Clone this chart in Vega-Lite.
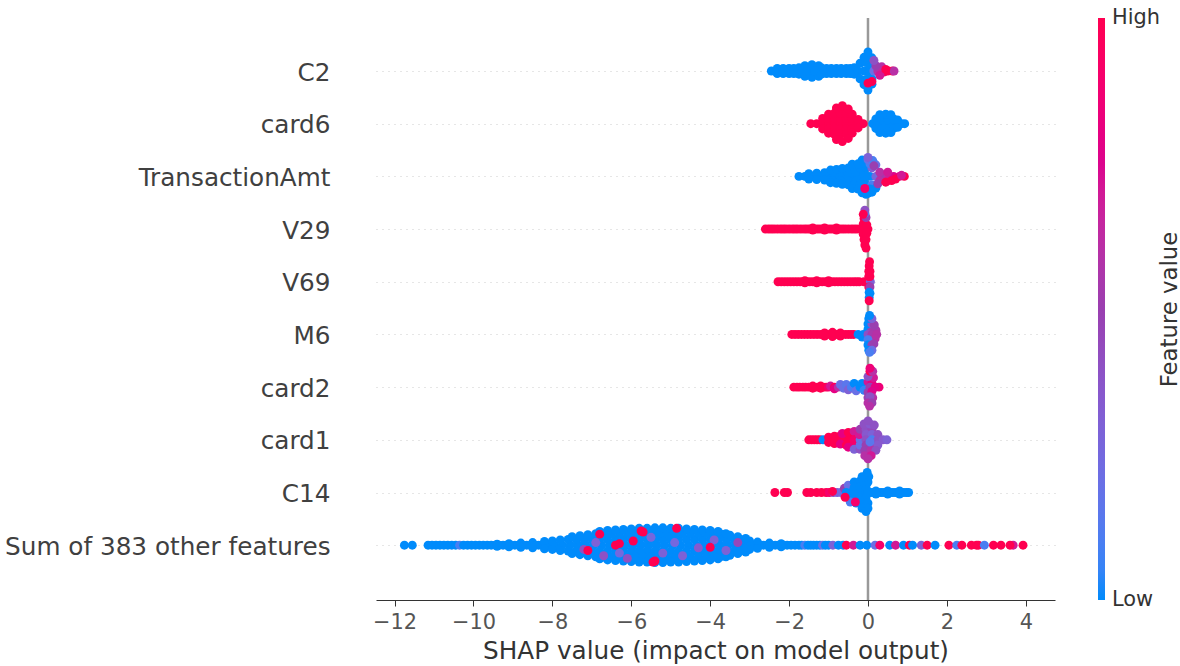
{"$schema":"https://vega.github.io/schema/vega-lite/v6.json","width":679,"height":582,"autosize":{"type":"none"},"padding":{"left":376,"top":18,"right":125,"bottom":66},"background":"white","config":{"view":{"stroke":null},"font":"DejaVu Sans"},"resolve":{"scale":{"y":"independent"},"axis":{"y":"independent"}},"layer":[{"data":{"values":[{"x":0}]},"mark":{"type":"rule","color":"#999999","strokeWidth":2.5},"encoding":{"x":{"field":"x","type":"quantitative","scale":{"domain":[-12.47,4.74],"nice":false,"zero":false},"axis":{"values":[-12,-10,-8,-6,-4,-2,0,2,4],"grid":false,"title":"SHAP value (impact on model output)","titleFontSize":24.7,"titleFontWeight":"normal","titleColor":"#333333","titlePadding":7,"labelFontSize":20.9,"labelColor":"#555555","labelPadding":5,"tickSize":6,"tickColor":"#333333","domainColor":"#333333","format":"d"}}}},{"data":{"values":[{"x":0,"y":0}]},"mark":{"type":"point","opacity":0},"encoding":{"x":{"field":"x","type":"quantitative"},"y":{"field":"y","type":"quantitative","axis":{"orient":"right","title":"Feature value","titleFontSize":22.8,"titleFontWeight":"normal","titleColor":"#333333","titleAngle":-90,"labels":false,"ticks":false,"domain":false,"grid":false,"offset":126,"titlePadding":0}}}},{"data":{"values":[
{"x":-2.45,"y":0,"v":0},{"x":-2.25,"y":0,"v":0},{"x":-2.05,"y":0,"v":0},{"x":-1.85,"y":0,"v":0},{"x":-1.65,"y":0,"v":0},{"x":-1.45,"y":0,"v":0},{"x":-1.25,"y":0,"v":0},{"x":-1.05,"y":0,"v":0},{"x":-0.85,"y":0,"v":0},{"x":-0.65,"y":0,"v":0},{"x":-0.45,"y":0,"v":0},{"x":-0.25,"y":0,"v":0},{"x":-2.3,"y":-0.05,"v":0},{"x":-2,"y":-0.05,"v":0},{"x":-1.75,"y":-0.06,"v":0},{"x":-1.5,"y":-0.07,"v":0},{"x":-1.3,"y":-0.07,"v":0},{"x":-1.05,"y":-0.05,"v":0},{"x":-0.8,"y":-0.05,"v":0},{"x":-0.55,"y":-0.05,"v":0},{"x":-0.35,"y":-0.06,"v":0},{"x":-2.3,"y":0.05,"v":0},{"x":-2,"y":0.05,"v":0},{"x":-1.75,"y":0.06,"v":0},{"x":-1.5,"y":0.07,"v":0},{"x":-1.3,"y":0.07,"v":0},{"x":-1.05,"y":0.05,"v":0},{"x":-0.8,"y":0.05,"v":0},{"x":-0.55,"y":0.05,"v":0},{"x":-0.35,"y":0.06,"v":0},{"x":-1.6,"y":-0.1,"v":0},{"x":-1.42,"y":-0.12,"v":0},{"x":-1.25,"y":-0.1,"v":0},{"x":-1.6,"y":0.1,"v":0},{"x":-1.42,"y":0.12,"v":0},{"x":-1.25,"y":0.1,"v":0},{"x":-2.35,"y":0,"v":0},{"x":-2.15,"y":0,"v":0},{"x":-1.95,"y":0,"v":0},{"x":-1.75,"y":0,"v":0},{"x":-1.55,"y":0,"v":0},{"x":-1.35,"y":0,"v":0},{"x":-1.15,"y":0,"v":0},{"x":-0.95,"y":0,"v":0},{"x":-0.75,"y":0,"v":0},{"x":-0.55,"y":0,"v":0},{"x":-0.35,"y":0,"v":0},{"x":-2.15,"y":-0.05,"v":0},{"x":-1.88,"y":-0.05,"v":0},{"x":-1.18,"y":-0.06,"v":0},{"x":-0.93,"y":-0.05,"v":0},{"x":-0.68,"y":-0.05,"v":0},{"x":-0.45,"y":-0.05,"v":0},{"x":-2.15,"y":0.05,"v":0},{"x":-1.88,"y":0.05,"v":0},{"x":-1.18,"y":0.06,"v":0},{"x":-0.93,"y":0.05,"v":0},{"x":-0.68,"y":0.05,"v":0},{"x":-0.45,"y":0.05,"v":0},{"x":-0.2,"y":-0.15,"v":0},{"x":-0.05,"y":-0.16,"v":0},{"x":0.1,"y":-0.15,"v":0},{"x":-0.2,"y":0.15,"v":0},{"x":-0.05,"y":0.16,"v":0},{"x":0.1,"y":0.15,"v":0},{"x":-0.1,"y":-0.26,"v":0},{"x":0.02,"y":-0.26,"v":0},{"x":0.1,"y":-0.25,"v":0},{"x":-0.1,"y":0.26,"v":0},{"x":0.02,"y":0.26,"v":0},{"x":0.1,"y":0.25,"v":0},{"x":0,"y":-0.36,"v":0},{"x":0,"y":0.36,"v":0},{"x":-0.1,"y":0,"v":0},{"x":0.05,"y":0,"v":0},{"x":0.05,"y":-0.07,"v":0},{"x":0.05,"y":0.07,"v":0},{"x":0.15,"y":0,"v":0.2},{"x":0.25,"y":0,"v":0.6},{"x":0.4,"y":0.02,"v":0.9},{"x":0.5,"y":0,"v":1},{"x":0.62,"y":0,"v":1},{"x":0.66,"y":0,"v":0.6},{"x":0.35,"y":-0.08,"v":0.6},{"x":0.3,"y":0.08,"v":0.7},{"x":0.2,"y":-0.1,"v":0.5},{"x":0.45,"y":-0.03,"v":1},{"x":0.1,"y":0.2,"v":1},{"x":0,"y":0.23,"v":1},{"x":0.15,"y":-0.2,"v":0.4},
{"x":-1.45,"y":1,"v":1},{"x":-1.3,"y":1,"v":1},{"x":-1.15,"y":1,"v":1},{"x":-1,"y":1,"v":1},{"x":-0.85,"y":1,"v":1},{"x":-0.7,"y":1,"v":1},{"x":-0.55,"y":1,"v":1},{"x":-0.4,"y":1,"v":1},{"x":-0.25,"y":1,"v":1},{"x":-0.12,"y":1,"v":1},{"x":-1.15,"y":0.9,"v":1},{"x":-1,"y":0.9,"v":1},{"x":-0.85,"y":0.9,"v":1},{"x":-0.7,"y":0.9,"v":1},{"x":-0.55,"y":0.9,"v":1},{"x":-0.4,"y":0.9,"v":1},{"x":-0.25,"y":0.92,"v":1},{"x":-1.15,"y":1.1,"v":1},{"x":-1,"y":1.1,"v":1},{"x":-0.85,"y":1.1,"v":1},{"x":-0.7,"y":1.1,"v":1},{"x":-0.55,"y":1.1,"v":1},{"x":-0.4,"y":1.1,"v":1},{"x":-0.25,"y":1.08,"v":1},{"x":-1,"y":0.82,"v":1},{"x":-0.85,"y":0.8,"v":1},{"x":-0.7,"y":0.8,"v":1},{"x":-0.55,"y":0.8,"v":1},{"x":-0.4,"y":0.82,"v":1},{"x":-1,"y":1.18,"v":1},{"x":-0.85,"y":1.2,"v":1},{"x":-0.7,"y":1.2,"v":1},{"x":-0.55,"y":1.2,"v":1},{"x":-0.4,"y":1.18,"v":1},{"x":-0.8,"y":0.7,"v":1},{"x":-0.65,"y":0.66,"v":1},{"x":-0.5,"y":0.72,"v":1},{"x":-0.8,"y":1.3,"v":1},{"x":-0.65,"y":1.34,"v":1},{"x":-0.5,"y":1.28,"v":1},{"x":0.12,"y":1,"v":0},{"x":0.25,"y":1,"v":0},{"x":0.4,"y":1,"v":0},{"x":0.55,"y":1,"v":0},{"x":0.7,"y":1,"v":0},{"x":0.85,"y":1,"v":0},{"x":0.93,"y":1,"v":0},{"x":0.2,"y":0.91,"v":0},{"x":0.35,"y":0.91,"v":0},{"x":0.5,"y":0.91,"v":0},{"x":0.65,"y":0.91,"v":0},{"x":0.75,"y":0.93,"v":0},{"x":0.2,"y":1.09,"v":0},{"x":0.35,"y":1.09,"v":0},{"x":0.5,"y":1.09,"v":0},{"x":0.65,"y":1.09,"v":0},{"x":0.75,"y":1.07,"v":0},{"x":0.3,"y":0.83,"v":0},{"x":0.45,"y":0.82,"v":0},{"x":0.58,"y":0.83,"v":0},{"x":0.3,"y":1.17,"v":0},{"x":0.45,"y":1.18,"v":0},{"x":0.58,"y":1.17,"v":0},
{"x":-1.75,"y":2,"v":0},{"x":-1.6,"y":2,"v":0},{"x":-1.45,"y":2,"v":0},{"x":-1.3,"y":2,"v":0},{"x":-1.15,"y":2,"v":0},{"x":-1,"y":2,"v":0},{"x":-0.85,"y":2,"v":0},{"x":-0.7,"y":2,"v":0},{"x":-0.55,"y":2,"v":0},{"x":-0.4,"y":2,"v":0},{"x":-0.25,"y":2,"v":0},{"x":-0.1,"y":2,"v":0},{"x":0.05,"y":2,"v":0},{"x":-1.5,"y":1.95,"v":0},{"x":-1.3,"y":1.94,"v":0},{"x":-1.1,"y":1.93,"v":0},{"x":-0.9,"y":1.92,"v":0},{"x":-0.7,"y":1.92,"v":0},{"x":-0.5,"y":1.92,"v":0},{"x":-0.3,"y":1.92,"v":0},{"x":-0.1,"y":1.92,"v":0},{"x":-1.5,"y":2.05,"v":0},{"x":-1.3,"y":2.06,"v":0},{"x":-1.1,"y":2.07,"v":0},{"x":-0.9,"y":2.08,"v":0},{"x":-0.7,"y":2.08,"v":0},{"x":-0.5,"y":2.08,"v":0},{"x":-0.3,"y":2.08,"v":0},{"x":-0.1,"y":2.08,"v":0},{"x":-0.95,"y":1.88,"v":0},{"x":-0.8,"y":1.87,"v":0},{"x":-0.65,"y":1.85,"v":0},{"x":-0.5,"y":1.84,"v":0},{"x":-0.35,"y":1.84,"v":0},{"x":-0.2,"y":1.84,"v":0},{"x":-0.05,"y":1.84,"v":0},{"x":0.1,"y":1.84,"v":0.3},{"x":-0.95,"y":2.12,"v":0},{"x":-0.8,"y":2.13,"v":0},{"x":-0.65,"y":2.15,"v":0},{"x":-0.5,"y":2.16,"v":0},{"x":-0.35,"y":2.16,"v":0},{"x":-0.2,"y":2.16,"v":0},{"x":-0.05,"y":2.16,"v":0},{"x":0.1,"y":2.16,"v":0.1},{"x":-0.4,"y":1.77,"v":0},{"x":-0.25,"y":1.76,"v":0},{"x":-0.1,"y":1.76,"v":0},{"x":0.05,"y":1.76,"v":0.1},{"x":0.2,"y":1.78,"v":0.2},{"x":-0.4,"y":2.23,"v":0},{"x":-0.25,"y":2.24,"v":0},{"x":-0.1,"y":2.24,"v":0},{"x":0.05,"y":2.24,"v":0},{"x":0.2,"y":2.22,"v":0},{"x":-0.15,"y":1.69,"v":0},{"x":0,"y":1.68,"v":0.2},{"x":0.12,"y":1.7,"v":0.1},{"x":-0.15,"y":2.31,"v":0},{"x":0,"y":2.32,"v":0},{"x":0.1,"y":2.3,"v":0},{"x":0,"y":1.64,"v":0.3},{"x":-0.05,"y":2.34,"v":0},{"x":0.2,"y":2,"v":0.25},{"x":0.35,"y":2,"v":0.5},{"x":0.5,"y":2,"v":0.6},{"x":0.65,"y":2,"v":0.75},{"x":0.8,"y":2,"v":0.8},{"x":0.92,"y":2,"v":1},{"x":0.3,"y":1.92,"v":0.6},{"x":0.3,"y":2.08,"v":0.6},{"x":0.5,"y":1.92,"v":0.7},{"x":0.5,"y":2.08,"v":0.7},{"x":0.7,"y":2.05,"v":1},{"x":0.6,"y":2.08,"v":1},{"x":0.85,"y":1.98,"v":0.7},{"x":0.25,"y":2.14,"v":0.5},{"x":0.15,"y":1.8,"v":0.5},{"x":0.45,"y":2.11,"v":1},{"x":-0.08,"y":2.23,"v":0.9},
{"x":-2.6,"y":3,"v":1},{"x":-2.45,"y":3,"v":1},{"x":-2.3,"y":3,"v":1},{"x":-2.15,"y":3,"v":1},{"x":-2,"y":3,"v":1},{"x":-1.85,"y":3,"v":1},{"x":-1.7,"y":3,"v":1},{"x":-1.55,"y":3,"v":1},{"x":-1.4,"y":3,"v":1},{"x":-1.25,"y":3,"v":1},{"x":-1.1,"y":3,"v":1},{"x":-0.95,"y":3,"v":1},{"x":-0.8,"y":3,"v":1},{"x":-0.65,"y":3,"v":1},{"x":-0.5,"y":3,"v":1},{"x":-0.35,"y":3,"v":1},{"x":-0.2,"y":3,"v":1},{"x":-0.08,"y":3,"v":1},{"x":0,"y":3,"v":1},{"x":-2.52,"y":3,"v":1},{"x":-2.38,"y":3,"v":1},{"x":-2.22,"y":3,"v":1},{"x":-2.08,"y":3,"v":1},{"x":-1.92,"y":3,"v":1},{"x":-1.78,"y":3,"v":1},{"x":-1.62,"y":3,"v":1},{"x":-1.48,"y":3,"v":1},{"x":-1.32,"y":3,"v":1},{"x":-1.18,"y":3,"v":1},{"x":-1.02,"y":3,"v":1},{"x":-0.88,"y":3,"v":1},{"x":-0.72,"y":3,"v":1},{"x":-0.58,"y":3,"v":1},{"x":-0.42,"y":3,"v":1},{"x":-0.28,"y":3,"v":1},{"x":-1.4,"y":2.98,"v":1},{"x":-1.1,"y":2.98,"v":1},{"x":-0.8,"y":2.98,"v":1},{"x":-1.4,"y":3.02,"v":1},{"x":-1.1,"y":3.02,"v":1},{"x":-0.8,"y":3.02,"v":1},{"x":-0.12,"y":2.9,"v":1},{"x":-0.03,"y":2.92,"v":1},{"x":-0.12,"y":3.1,"v":1},{"x":-0.03,"y":3.08,"v":1},{"x":-0.1,"y":2.8,"v":1},{"x":-0.05,"y":2.78,"v":0.5},{"x":-0.1,"y":3.2,"v":1},{"x":-0.05,"y":3.2,"v":1},{"x":-0.08,"y":2.7,"v":0.1},{"x":-0.08,"y":2.64,"v":0.4},{"x":-0.08,"y":3.3,"v":1},{"x":-0.05,"y":3.36,"v":1},{"x":-0.12,"y":2.72,"v":1},
{"x":-2.28,"y":4,"v":1},{"x":-2.12,"y":4,"v":1},{"x":-1.96,"y":4,"v":1},{"x":-1.8,"y":4,"v":1},{"x":-1.64,"y":4,"v":1},{"x":-1.48,"y":4,"v":1},{"x":-1.32,"y":4,"v":1},{"x":-1.16,"y":4,"v":1},{"x":-1,"y":4,"v":1},{"x":-0.84,"y":4,"v":1},{"x":-0.68,"y":4,"v":1},{"x":-0.52,"y":4,"v":1},{"x":-0.36,"y":4,"v":1},{"x":-0.22,"y":4,"v":1},{"x":-0.1,"y":4,"v":1},{"x":0,"y":4,"v":1},{"x":0.06,"y":4,"v":0.3},{"x":-2.2,"y":4,"v":1},{"x":-2.04,"y":4,"v":1},{"x":-1.88,"y":4,"v":1},{"x":-1.72,"y":4,"v":1},{"x":-1.56,"y":4,"v":1},{"x":-1.4,"y":4,"v":1},{"x":-1.24,"y":4,"v":1},{"x":-1.08,"y":4,"v":1},{"x":-0.92,"y":4,"v":1},{"x":-0.76,"y":4,"v":1},{"x":-0.6,"y":4,"v":1},{"x":-0.44,"y":4,"v":1},{"x":-0.29,"y":4,"v":1},{"x":-1.6,"y":3.98,"v":1},{"x":-1.3,"y":3.98,"v":1},{"x":-1,"y":3.98,"v":1},{"x":-1.6,"y":4.02,"v":1},{"x":-1.3,"y":4.02,"v":1},{"x":-1,"y":4.02,"v":1},{"x":0.02,"y":3.9,"v":1},{"x":0.05,"y":3.9,"v":1},{"x":0.02,"y":3.8,"v":1},{"x":0.05,"y":3.8,"v":1},{"x":0.03,"y":3.7,"v":1},{"x":0.04,"y":3.62,"v":1},{"x":0.02,"y":4.1,"v":1},{"x":0.05,"y":4.1,"v":0.5},{"x":0.03,"y":4.2,"v":0},{"x":0.05,"y":4.22,"v":0},{"x":0.03,"y":4.3,"v":0},{"x":0.03,"y":4.36,"v":1},
{"x":-1.93,"y":5,"v":1},{"x":-1.77,"y":5,"v":1},{"x":-1.61,"y":5,"v":1},{"x":-1.45,"y":5,"v":1},{"x":-1.29,"y":5,"v":1},{"x":-1.13,"y":5,"v":1},{"x":-0.97,"y":5,"v":1},{"x":-0.81,"y":5,"v":1},{"x":-0.65,"y":5,"v":1},{"x":-0.5,"y":5,"v":1},{"x":-0.36,"y":5,"v":1},{"x":-1.85,"y":5,"v":1},{"x":-1.69,"y":5,"v":1},{"x":-1.53,"y":5,"v":1},{"x":-1.37,"y":5,"v":1},{"x":-1.21,"y":5,"v":1},{"x":-1.05,"y":5,"v":1},{"x":-0.89,"y":5,"v":1},{"x":-0.73,"y":5,"v":1},{"x":-0.57,"y":5,"v":1},{"x":-0.43,"y":5,"v":1},{"x":-1.1,"y":4.97,"v":1},{"x":-0.9,"y":4.96,"v":1},{"x":-0.7,"y":4.97,"v":1},{"x":-1.1,"y":5.03,"v":1},{"x":-0.9,"y":5.04,"v":1},{"x":-0.7,"y":5.03,"v":1},{"x":-0.25,"y":5,"v":0},{"x":-0.12,"y":5,"v":0},{"x":-0.15,"y":5.05,"v":0},{"x":0,"y":5.05,"v":0},{"x":0,"y":4.9,"v":0},{"x":0.1,"y":4.9,"v":0.55},{"x":0.2,"y":4.92,"v":0.55},{"x":0,"y":5,"v":0.4},{"x":0.1,"y":5,"v":0.55},{"x":0.22,"y":5,"v":0.6},{"x":0.08,"y":5.1,"v":0.5},{"x":0.18,"y":5.08,"v":0.6},{"x":0,"y":5.1,"v":0.1},{"x":0,"y":4.8,"v":0},{"x":0.1,"y":4.8,"v":0.4},{"x":0.16,"y":4.82,"v":0.5},{"x":0,"y":5.2,"v":0},{"x":0.1,"y":5.2,"v":0.5},{"x":0.15,"y":5.18,"v":0.5},{"x":0.02,"y":4.7,"v":0},{"x":0.1,"y":4.7,"v":0.3},{"x":0.02,"y":5.3,"v":0},{"x":0.1,"y":5.3,"v":0.2},{"x":0.04,"y":4.64,"v":0},{"x":0.04,"y":5.34,"v":0.1},
{"x":-1.88,"y":6,"v":1},{"x":-1.73,"y":6,"v":1},{"x":-1.58,"y":6,"v":1},{"x":-1.43,"y":6,"v":1},{"x":-1.28,"y":6,"v":1},{"x":-1.13,"y":6,"v":1},{"x":-1.8,"y":6,"v":1},{"x":-1.65,"y":6,"v":1},{"x":-1.5,"y":6,"v":1},{"x":-1.35,"y":6,"v":1},{"x":-1.2,"y":6,"v":1},{"x":-1.06,"y":6,"v":1},{"x":-1.4,"y":5.98,"v":1},{"x":-1.2,"y":5.98,"v":1},{"x":-1.4,"y":6.02,"v":1},{"x":-1.2,"y":6.02,"v":1},{"x":-1,"y":6,"v":0.9},{"x":-0.95,"y":5.98,"v":0.7},{"x":-0.85,"y":6,"v":1},{"x":-0.85,"y":6.03,"v":0.8},{"x":-0.75,"y":6,"v":0.6},{"x":-0.7,"y":5.95,"v":0.2},{"x":-0.62,"y":6.02,"v":0.2},{"x":-0.55,"y":5.95,"v":0.15},{"x":-0.5,"y":6.05,"v":0.3},{"x":-0.42,"y":6,"v":0.1},{"x":-0.35,"y":5.93,"v":0},{"x":-0.3,"y":6.07,"v":0.2},{"x":-0.2,"y":6,"v":0},{"x":-0.15,"y":5.93,"v":0},{"x":-0.1,"y":6.06,"v":0.05},{"x":0.28,"y":6,"v":0.85},{"x":0,"y":5.9,"v":0.7},{"x":0.1,"y":5.92,"v":0.8},{"x":0.05,"y":6,"v":0.5},{"x":0.18,"y":6,"v":0.8},{"x":0,"y":6.1,"v":0.5},{"x":0.1,"y":6.08,"v":0.75},{"x":0.05,"y":5.8,"v":1},{"x":0.14,"y":5.82,"v":0.7},{"x":0,"y":5.8,"v":0.4},{"x":0.05,"y":5.7,"v":1},{"x":0.12,"y":5.7,"v":0.6},{"x":0.05,"y":5.64,"v":0.85},{"x":0,"y":6.2,"v":0.5},{"x":0.12,"y":6.2,"v":0.6},{"x":0.05,"y":6.18,"v":0.4},{"x":0,"y":6.3,"v":0.6},{"x":0.1,"y":6.3,"v":0.5},{"x":0.04,"y":6.36,"v":0.6},
{"x":-1.5,"y":7,"v":1},{"x":-1.43,"y":7,"v":1},{"x":-1.36,"y":7,"v":1},{"x":-1.29,"y":7,"v":1},{"x":-1.22,"y":7,"v":1},{"x":-1.02,"y":7,"v":1},{"x":-0.88,"y":7,"v":1},{"x":-0.75,"y":7,"v":1},{"x":-0.62,"y":7,"v":1},{"x":-0.5,"y":7,"v":1},{"x":-1.14,"y":7,"v":0},{"x":-1,"y":6.95,"v":1},{"x":-0.85,"y":6.93,"v":1},{"x":-0.7,"y":6.92,"v":1},{"x":-0.55,"y":6.9,"v":1},{"x":-0.4,"y":6.9,"v":1},{"x":-1,"y":7.05,"v":1},{"x":-0.85,"y":7.07,"v":1},{"x":-0.7,"y":7.08,"v":0.8},{"x":-0.55,"y":7.1,"v":1},{"x":-0.4,"y":7.12,"v":0.9},{"x":-0.65,"y":6.88,"v":0.8},{"x":-0.5,"y":6.86,"v":1},{"x":-0.35,"y":6.84,"v":0.7},{"x":-0.5,"y":7.14,"v":0.8},{"x":-0.35,"y":7.18,"v":0.3},{"x":-0.2,"y":7.18,"v":0.4},{"x":-0.35,"y":7,"v":0.9},{"x":-0.2,"y":7,"v":0.2},{"x":-0.22,"y":6.9,"v":0.7},{"x":-0.2,"y":7.1,"v":0.2},{"x":-0.2,"y":6.8,"v":0.5},{"x":-0.05,"y":6.8,"v":0.4},{"x":0.1,"y":6.8,"v":0.45},{"x":-0.05,"y":6.9,"v":0.35},{"x":0.1,"y":6.9,"v":0.3},{"x":0.25,"y":6.9,"v":0.4},{"x":-0.05,"y":7,"v":0.4},{"x":0.1,"y":7,"v":0.1},{"x":0.25,"y":7,"v":0.4},{"x":0.38,"y":7,"v":0.35},{"x":0.48,"y":7,"v":0.3},{"x":-0.05,"y":7.1,"v":0.5},{"x":0.1,"y":7.1,"v":0.45},{"x":0.25,"y":7.1,"v":0.35},{"x":-0.08,"y":7.2,"v":0.5},{"x":0.08,"y":7.2,"v":0.6},{"x":0.2,"y":7.2,"v":0.4},{"x":-0.08,"y":7.3,"v":0.6},{"x":0.08,"y":7.3,"v":0.7},{"x":0,"y":7.36,"v":0.6},{"x":-0.1,"y":6.7,"v":0.4},{"x":0.05,"y":6.7,"v":0.35},{"x":0.16,"y":6.72,"v":0.4},{"x":0,"y":6.64,"v":0.4},{"x":0.05,"y":7.04,"v":0.15},
{"x":-2.36,"y":8,"v":1},{"x":-2.12,"y":8,"v":1},{"x":-2.04,"y":8,"v":1},{"x":-1.55,"y":8,"v":1},{"x":-1.45,"y":8,"v":1},{"x":-1.3,"y":8,"v":1},{"x":-1.18,"y":8,"v":1},{"x":-1.06,"y":8,"v":1},{"x":-0.98,"y":8,"v":0.9},{"x":-0.88,"y":8,"v":0.4},{"x":-0.78,"y":8,"v":0.3},{"x":-0.68,"y":8,"v":0.25},{"x":-0.9,"y":7.98,"v":1},{"x":-0.6,"y":7.92,"v":0.5},{"x":-0.5,"y":7.86,"v":0.2},{"x":-0.35,"y":7.8,"v":0},{"x":-0.2,"y":7.78,"v":0},{"x":-0.55,"y":8,"v":0},{"x":-0.42,"y":8,"v":0},{"x":-0.28,"y":8,"v":0},{"x":-0.14,"y":8,"v":0},{"x":0,"y":8,"v":0},{"x":0.14,"y":8,"v":0},{"x":0.28,"y":8,"v":0},{"x":0.42,"y":8,"v":0},{"x":0.56,"y":8,"v":0},{"x":0.7,"y":8,"v":0},{"x":0.84,"y":8,"v":0},{"x":0.98,"y":8,"v":0},{"x":1.03,"y":8,"v":0},{"x":0.07,"y":8,"v":0},{"x":0.21,"y":8,"v":0},{"x":0.35,"y":8,"v":0},{"x":0.49,"y":8,"v":0},{"x":0.63,"y":8,"v":0},{"x":0.77,"y":8,"v":0},{"x":0.91,"y":8,"v":0},{"x":0.2,"y":7.97,"v":0},{"x":0.5,"y":7.97,"v":0},{"x":0.8,"y":7.97,"v":0},{"x":0.2,"y":8.03,"v":0},{"x":0.5,"y":8.03,"v":0},{"x":0.8,"y":8.03,"v":0},{"x":-0.5,"y":8.1,"v":0},{"x":-0.35,"y":8.1,"v":0},{"x":-0.2,"y":8.1,"v":0},{"x":-0.05,"y":8.1,"v":0},{"x":-0.35,"y":7.9,"v":0},{"x":-0.2,"y":7.9,"v":0},{"x":-0.05,"y":7.9,"v":0},{"x":-0.45,"y":8.18,"v":0.1},{"x":-0.3,"y":8.2,"v":0},{"x":-0.15,"y":8.2,"v":0},{"x":0,"y":8.2,"v":0},{"x":-0.1,"y":7.8,"v":0},{"x":0,"y":7.8,"v":0},{"x":-0.08,"y":7.7,"v":0},{"x":0.02,"y":7.7,"v":0},{"x":-0.15,"y":7.7,"v":0},{"x":-0.02,"y":7.62,"v":0},{"x":-0.15,"y":8.3,"v":0},{"x":0,"y":8.3,"v":0},{"x":-0.05,"y":8.36,"v":0},{"x":-0.58,"y":8.09,"v":1},{"x":-0.32,"y":8.18,"v":0.9},
{"x":-11.75,"y":9,"v":0},{"x":-11.55,"y":9,"v":0},{"x":-11.15,"y":9,"v":0},{"x":-11.05,"y":9,"v":0},{"x":-10.95,"y":9,"v":0},{"x":-10.85,"y":9,"v":0},{"x":-10.75,"y":9,"v":0},{"x":-10.65,"y":9,"v":0},{"x":-10.55,"y":9,"v":0},{"x":-10.45,"y":9,"v":0},{"x":-10.35,"y":9,"v":0.1},{"x":-10.25,"y":9,"v":0},{"x":-10.15,"y":9,"v":0},{"x":-10.05,"y":9,"v":0},{"x":-9.95,"y":9,"v":0},{"x":-9.85,"y":9,"v":0},{"x":-9.75,"y":9,"v":0},{"x":-9.65,"y":9,"v":0},{"x":-9.55,"y":9,"v":0},{"x":-9.45,"y":9,"v":0},{"x":-9.35,"y":9,"v":0},{"x":-9.25,"y":9,"v":0},{"x":-9.15,"y":9,"v":0},{"x":-9.05,"y":9,"v":0},{"x":-8.95,"y":9,"v":0},{"x":-8.85,"y":9,"v":0},{"x":-8.75,"y":9,"v":0},{"x":-8.65,"y":9,"v":0},{"x":-8.55,"y":9,"v":0},{"x":-8.45,"y":9,"v":0},{"x":-8.35,"y":9,"v":0},{"x":-8.15,"y":9,"v":0},{"x":-7.95,"y":9,"v":0},{"x":-7.75,"y":9,"v":0},{"x":-7.55,"y":9,"v":0},{"x":-7.35,"y":9,"v":0},{"x":-7.15,"y":9,"v":0},{"x":-6.95,"y":9,"v":0},{"x":-6.75,"y":9,"v":0},{"x":-6.55,"y":9,"v":0},{"x":-6.35,"y":9,"v":0},{"x":-6.15,"y":9,"v":0},{"x":-5.95,"y":9,"v":0},{"x":-5.75,"y":9,"v":0},{"x":-5.55,"y":9,"v":0},{"x":-5.35,"y":9,"v":0},{"x":-5.15,"y":9,"v":0},{"x":-4.95,"y":9,"v":0},{"x":-4.75,"y":9,"v":0},{"x":-4.55,"y":9,"v":0},{"x":-4.35,"y":9,"v":0},{"x":-4.15,"y":9,"v":0},{"x":-3.95,"y":9,"v":0},{"x":-3.75,"y":9,"v":0},{"x":-3.55,"y":9,"v":0},{"x":-3.35,"y":9,"v":0},{"x":-3.15,"y":9,"v":0},{"x":-2.95,"y":9,"v":0},{"x":-2.75,"y":9,"v":0},{"x":-2.65,"y":9,"v":0},{"x":-2.55,"y":9,"v":0},{"x":-2.45,"y":9,"v":0},{"x":-2.35,"y":9,"v":0},{"x":-2.25,"y":9,"v":0},{"x":-2.15,"y":9,"v":0},{"x":-2.05,"y":9,"v":0},{"x":-1.95,"y":9,"v":0},{"x":-1.85,"y":9,"v":0},{"x":-1.75,"y":9,"v":0},{"x":-1.68,"y":9,"v":0},{"x":-1.6,"y":9,"v":0.1},{"x":-1.52,"y":9,"v":0},{"x":-1.45,"y":9,"v":0},{"x":-1.38,"y":9,"v":0},{"x":-1.3,"y":9,"v":0},{"x":-1.22,"y":9,"v":0},{"x":-1.15,"y":9,"v":0.2},{"x":-1.08,"y":9,"v":0},{"x":-1,"y":9,"v":0},{"x":-0.89,"y":9,"v":0.3},{"x":-0.75,"y":9,"v":0},{"x":-0.63,"y":9,"v":0},{"x":-0.55,"y":9,"v":1},{"x":-0.37,"y":9,"v":0.7},{"x":-0.2,"y":9,"v":0},{"x":-0.03,"y":9,"v":0},{"x":0.18,"y":9,"v":0.2},{"x":0.3,"y":9,"v":0.9},{"x":0.55,"y":9,"v":0},{"x":0.7,"y":9,"v":0.7},{"x":0.9,"y":9,"v":0},{"x":1.05,"y":9,"v":1},{"x":1.13,"y":9,"v":0},{"x":1.35,"y":9,"v":0.3},{"x":1.5,"y":9,"v":1},{"x":1.7,"y":9,"v":0},{"x":2.05,"y":9,"v":1},{"x":2.25,"y":9,"v":0.1},{"x":2.38,"y":9,"v":1},{"x":2.62,"y":9,"v":1},{"x":2.75,"y":9,"v":1},{"x":2.8,"y":9,"v":1},{"x":2.95,"y":9,"v":0.1},{"x":3.18,"y":9,"v":1},{"x":3.37,"y":9,"v":1},{"x":3.68,"y":9,"v":0.7},{"x":3.6,"y":9,"v":1},{"x":3.93,"y":9,"v":1},
{"x":-9.4,"y":8.98,"v":0},{"x":-9.1,"y":8.97,"v":0},{"x":-8.8,"y":8.96,"v":0},{"x":-8.5,"y":8.95,"v":0},{"x":-9.4,"y":9.02,"v":0},{"x":-9.1,"y":9.03,"v":0},{"x":-8.8,"y":9.04,"v":0},{"x":-8.5,"y":9.05,"v":0},{"x":-2.5,"y":8.96,"v":0},{"x":-2.2,"y":8.97,"v":0},{"x":-2.5,"y":9.04,"v":0},{"x":-2.2,"y":9.03,"v":0},
{"x":-8.2,"y":8.93,"v":0},{"x":-8,"y":8.92,"v":0},{"x":-7.8,"y":8.9,"v":0},{"x":-7.6,"y":8.89,"v":0},{"x":-7.4,"y":8.89,"v":0},{"x":-7.2,"y":8.89,"v":0},{"x":-7,"y":8.89,"v":0},{"x":-6.8,"y":8.89,"v":0},{"x":-6.6,"y":8.89,"v":0},{"x":-6.4,"y":8.89,"v":0},{"x":-6.2,"y":8.89,"v":0},{"x":-6,"y":8.89,"v":0},{"x":-5.8,"y":8.89,"v":0},{"x":-5.6,"y":8.89,"v":0},{"x":-5.4,"y":8.89,"v":0},{"x":-5.2,"y":8.89,"v":0},{"x":-5,"y":8.89,"v":0},{"x":-4.8,"y":8.89,"v":0},{"x":-4.6,"y":8.89,"v":0},{"x":-4.4,"y":8.89,"v":0},{"x":-4.2,"y":8.89,"v":0},{"x":-4,"y":8.89,"v":0},{"x":-3.8,"y":8.89,"v":0},{"x":-3.6,"y":8.89,"v":0},{"x":-3.4,"y":8.89,"v":0},{"x":-3.2,"y":8.9,"v":0},{"x":-3,"y":8.92,"v":0},{"x":-2.8,"y":8.94,"v":0},
{"x":-8.2,"y":9.07,"v":0},{"x":-8,"y":9.08,"v":0},{"x":-7.8,"y":9.1,"v":0},{"x":-7.6,"y":9.11,"v":0},{"x":-7.4,"y":9.11,"v":0},{"x":-7.2,"y":9.11,"v":0},{"x":-7,"y":9.11,"v":0},{"x":-6.8,"y":9.11,"v":0},{"x":-6.6,"y":9.11,"v":0},{"x":-6.4,"y":9.11,"v":0},{"x":-6.2,"y":9.11,"v":0},{"x":-6,"y":9.11,"v":0},{"x":-5.8,"y":9.11,"v":0},{"x":-5.6,"y":9.11,"v":0},{"x":-5.4,"y":9.11,"v":0},{"x":-5.2,"y":9.11,"v":0},{"x":-5,"y":9.11,"v":0},{"x":-4.8,"y":9.11,"v":0},{"x":-4.6,"y":9.11,"v":0},{"x":-4.4,"y":9.11,"v":0},{"x":-4.2,"y":9.11,"v":0},{"x":-4,"y":9.11,"v":0},{"x":-3.8,"y":9.11,"v":0},{"x":-3.6,"y":9.11,"v":0},{"x":-3.4,"y":9.11,"v":0},{"x":-3.2,"y":9.1,"v":0},{"x":-3,"y":9.08,"v":0},{"x":-2.8,"y":9.06,"v":0},
{"x":-7.5,"y":8.84,"v":0},{"x":-7.3,"y":8.82,"v":0},{"x":-7.1,"y":8.8,"v":0},{"x":-6.9,"y":8.78,"v":0},{"x":-6.7,"y":8.78,"v":0},{"x":-6.5,"y":8.78,"v":0},{"x":-6.3,"y":8.78,"v":0},{"x":-6.1,"y":8.78,"v":0},{"x":-5.9,"y":8.78,"v":0},{"x":-5.7,"y":8.78,"v":0},{"x":-5.5,"y":8.78,"v":0},{"x":-5.3,"y":8.78,"v":0},{"x":-5.1,"y":8.78,"v":0},{"x":-4.9,"y":8.78,"v":0},{"x":-4.7,"y":8.78,"v":0},{"x":-4.5,"y":8.78,"v":0},{"x":-4.3,"y":8.78,"v":0},{"x":-4.1,"y":8.78,"v":0},{"x":-3.9,"y":8.78,"v":0},{"x":-3.7,"y":8.79,"v":0},{"x":-3.5,"y":8.81,"v":0},{"x":-3.3,"y":8.84,"v":0},{"x":-3.1,"y":8.87,"v":0},
{"x":-7.5,"y":9.16,"v":0},{"x":-7.3,"y":9.18,"v":0},{"x":-7.1,"y":9.2,"v":0},{"x":-6.9,"y":9.22,"v":0},{"x":-6.7,"y":9.22,"v":0},{"x":-6.5,"y":9.22,"v":0},{"x":-6.3,"y":9.22,"v":0},{"x":-6.1,"y":9.22,"v":0},{"x":-5.9,"y":9.22,"v":0},{"x":-5.7,"y":9.22,"v":0},{"x":-5.5,"y":9.22,"v":0},{"x":-5.3,"y":9.22,"v":0},{"x":-5.1,"y":9.22,"v":0},{"x":-4.9,"y":9.22,"v":0},{"x":-4.7,"y":9.22,"v":0},{"x":-4.5,"y":9.22,"v":0},{"x":-4.3,"y":9.22,"v":0},{"x":-4.1,"y":9.22,"v":0},{"x":-3.9,"y":9.22,"v":0},{"x":-3.7,"y":9.21,"v":0},{"x":-3.5,"y":9.19,"v":0},{"x":-3.3,"y":9.16,"v":0},{"x":-3.1,"y":9.13,"v":0},
{"x":-6.8,"y":8.74,"v":0},{"x":-6.6,"y":8.72,"v":0},{"x":-6.4,"y":8.71,"v":0},{"x":-6.2,"y":8.7,"v":0},{"x":-6,"y":8.69,"v":0},{"x":-5.8,"y":8.68,"v":0},{"x":-5.6,"y":8.68,"v":0},{"x":-5.4,"y":8.67,"v":0},{"x":-5.2,"y":8.67,"v":0},{"x":-5,"y":8.68,"v":0},{"x":-4.8,"y":8.68,"v":0},{"x":-4.6,"y":8.69,"v":0},{"x":-4.4,"y":8.7,"v":0},{"x":-4.2,"y":8.71,"v":0},{"x":-4,"y":8.72,"v":0},{"x":-3.8,"y":8.74,"v":0},{"x":-3.6,"y":8.78,"v":0},
{"x":-6.8,"y":9.26,"v":0},{"x":-6.6,"y":9.28,"v":0},{"x":-6.4,"y":9.29,"v":0},{"x":-6.2,"y":9.3,"v":0},{"x":-6,"y":9.31,"v":0},{"x":-5.8,"y":9.32,"v":0},{"x":-5.6,"y":9.32,"v":0},{"x":-5.4,"y":9.33,"v":0},{"x":-5.2,"y":9.33,"v":0},{"x":-5,"y":9.32,"v":0},{"x":-4.8,"y":9.32,"v":0},{"x":-4.6,"y":9.31,"v":0},{"x":-4.4,"y":9.3,"v":0},{"x":-4.2,"y":9.29,"v":0},{"x":-4,"y":9.28,"v":0},{"x":-3.8,"y":9.26,"v":0},{"x":-3.6,"y":9.22,"v":0},
{"x":-7.2,"y":9.08,"v":0.4},{"x":-6.9,"y":8.95,"v":0.3},{"x":-6.7,"y":9.2,"v":0.4},{"x":-6.3,"y":9.15,"v":0.25},{"x":-6.1,"y":9.25,"v":0.4},{"x":-5.5,"y":8.85,"v":0.25},{"x":-5.2,"y":9.15,"v":0.3},{"x":-4.9,"y":8.95,"v":0.25},{"x":-4.7,"y":9.2,"v":0.3},{"x":-4.3,"y":9.05,"v":0.35},{"x":-3.9,"y":8.9,"v":0.3},{"x":-3.6,"y":9.1,"v":0.3},{"x":-3.3,"y":8.95,"v":0.45},{"x":-5.75,"y":8.73,"v":1},{"x":-5.7,"y":8.75,"v":1},{"x":-4.85,"y":8.68,"v":1},{"x":-6.4,"y":9,"v":1},{"x":-6.3,"y":8.97,"v":1},{"x":-5.95,"y":8.92,"v":1},{"x":-5.4,"y":9.3,"v":1},{"x":-5.45,"y":9.32,"v":1},{"x":-4,"y":9.04,"v":1},{"x":-7.1,"y":9.1,"v":1},{"x":-6.8,"y":8.79,"v":1}
]},"mark":{"type":"circle","size":80,"opacity":1},"encoding":{"x":{"field":"x","type":"quantitative"},"y":{"field":"y","type":"quantitative","scale":{"domain":[-1.006,10.04],"reverse":true,"nice":false,"zero":false},"axis":{"title":null,"values":[0,1,2,3,4,5,6,7,8,9],"labelExpr":"['C2','card6','TransactionAmt','V29','V69','M6','card2','card1','C14','Sum of 383 other features'][datum.value]","labelFontSize":24.7,"labelColor":"#404040","labelPadding":46,"labelLimit":360,"labelOffset":2,"ticks":false,"domain":false,"grid":true,"gridColor":"#cccccc","gridDash":[1,5],"gridWidth":1}},"color":{"field":"v","type":"quantitative","scale":{"domain":[0,0.5,1],"range":["#008bfb","#9a3fb0","#ff0051"]},"legend":{"orient":"none","legendX":722,"legendY":0,"direction":"vertical","gradientLength":582,"gradientThickness":7,"title":null,"values":[0,1],"labelExpr":"datum.value == 1 ? 'High' : 'Low'","labelFontSize":20.9,"labelColor":"#333333","labelOffset":7,"encoding":{"labels":{"baseline":{"value":"middle"}}}}}}}]}
